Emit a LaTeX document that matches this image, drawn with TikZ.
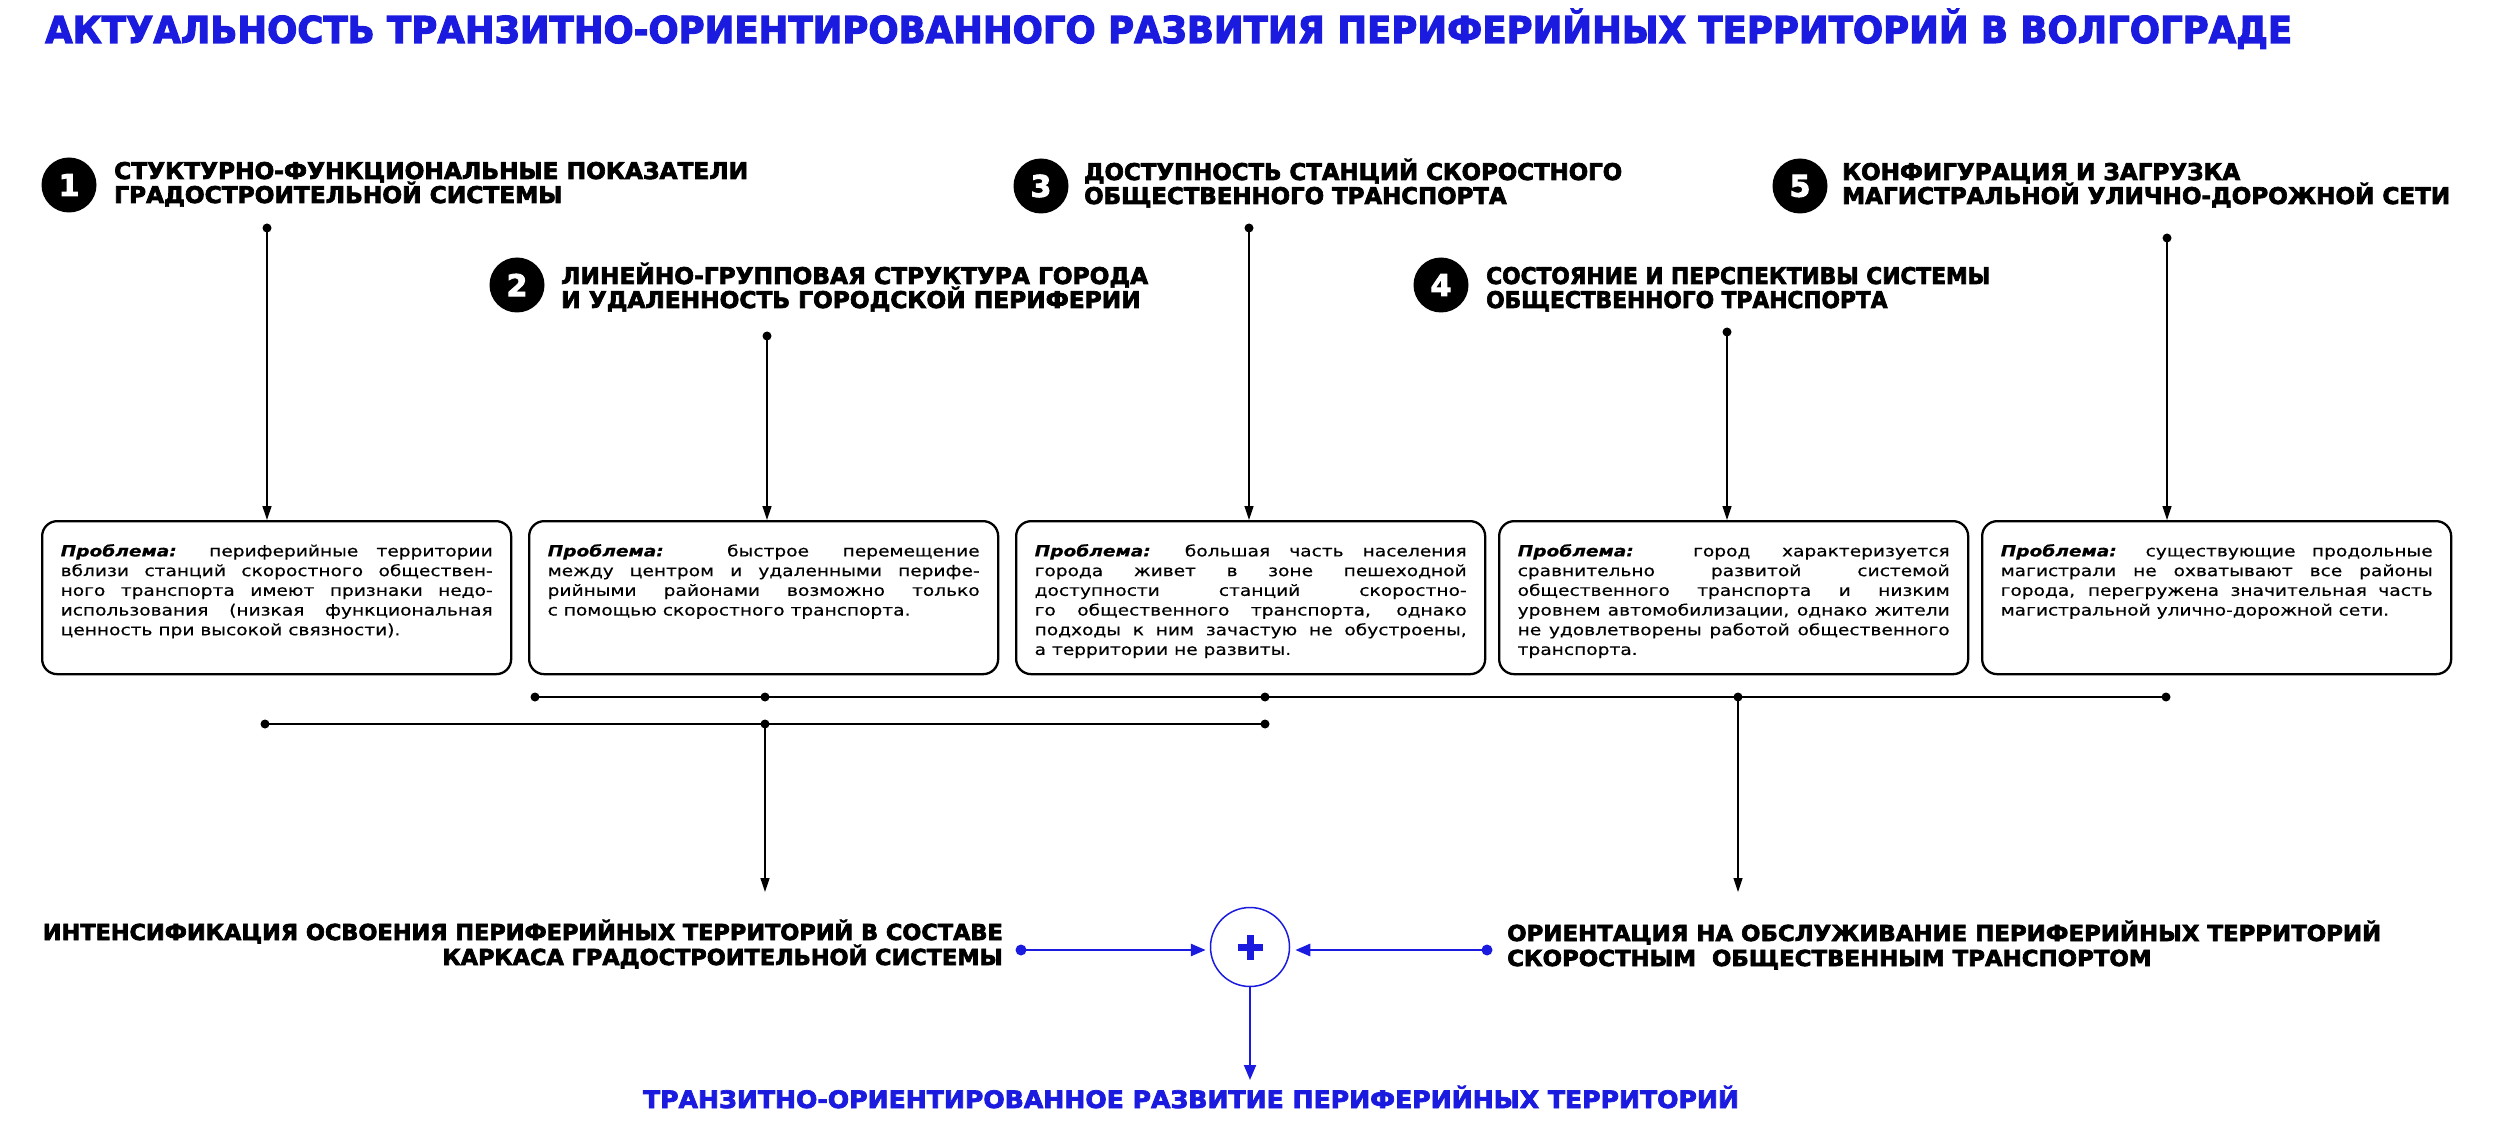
\documentclass[tikz,border=0pt]{standalone}
\usepackage{fontspec}
\usepackage{graphicx}
\setmainfont{DejaVu Sans}
\newfontfamily\hvy[FakeBold=3]{DejaVu Sans Bold}
\newfontfamily\bxf[FakeStretch=1.2,FakeBold=0.4]{DejaVu Sans}
\usetikzlibrary{arrows.meta}
\definecolor{tblue}{RGB}{27,27,224}
\newsavebox\fitbox
\newlength\fitlen
\newcommand\fitw[2]{\sbox\fitbox{#2}\setlength\fitlen{\wd\fitbox}\pgfmathsetmacro\fitsx{#1/\fitlen}\global\let\gfitsx\fitsx\scalebox{\fitsx}[1]{\usebox\fitbox}}
\newcommand\usesx[1]{\scalebox{\gfitsx}[1]{#1}}
\newcommand\jl[1]{\sbox\fitbox{#1}\noindent\ifdim\wd\fitbox>\linewidth\fitw{\linewidth}{#1}\else\makebox[\linewidth][s]{#1}\fi\par}
\newcommand\jlast[1]{\sbox\fitbox{#1}\noindent\ifdim\wd\fitbox>\linewidth\fitw{\linewidth}{#1}\else\makebox[\linewidth][l]{#1}\fi\par}
\newcommand\prb{\textbf{\textit{Проблема:}}}
\newcommand\boxtext[1]{\parbox[t][107pt][t]{432pt}{\bxf\fontsize{15.5}{19.7}\selectfont #1}}
\tikzset{
  hline/.style={anchor=base west, inner sep=0pt, font=\hvy\fontsize{23}{23}\selectfont},
  hliner/.style={hline, anchor=base east},
  numc/.style={circle, fill=black, minimum size=55pt, inner sep=0pt, text=white, font=\hvy\fontsize{30}{30}\selectfont},
  pbox/.style={draw, line width=2.3pt, rounded corners=15pt, anchor=north west, inner xsep=18.5pt, inner ysep=23pt, minimum width=469pt},
  conn/.style={line width=1.3pt, -{Triangle[length=14pt,width=9pt]}},
  bus/.style={line width=2.5pt},
  bconn/.style={tblue, line width=2.8pt, -{Triangle[length=15pt,width=12pt]}},
}
\begin{document}
\begin{tikzpicture}[x=1pt,y=-1pt]
\useasboundingbox (0,0) rectangle (2500,1139);
% title
\node[anchor=base west, inner sep=0pt, text=tblue, font=\hvy\fontsize{37}{37}\selectfont] (title) at (45,43)
  {\fitw{2247}{АКТУАЛЬНОСТЬ ТРАНЗИТНО-ОРИЕНТИРОВАННОГО РАЗВИТИЯ ПЕРИФЕРИЙНЫХ ТЕРРИТОРИЙ В ВОЛГОГРАДЕ}};
% headers
\node[numc] (n1) at (69,185) {1};
\node[hline] (h1a) at (114,179) {\fitw{634}{СТУКТУРНО-ФУНКЦИОНАЛЬНЫЕ ПОКАЗАТЕЛИ}};
\node[hline] (h1b) at (114,203) {\usesx{ГРАДОСТРОИТЕЛЬНОЙ СИСТЕМЫ}};
\node[numc] (n2) at (517,285) {2};
\node[hline] (h2a) at (561,284) {\fitw{587}{ЛИНЕЙНО-ГРУППОВАЯ СТРУКТУРА ГОРОДА}};
\node[hline] (h2b) at (561,308) {\usesx{И УДАЛЕННОСТЬ ГОРОДСКОЙ ПЕРИФЕРИИ}};
\node[numc] (n3) at (1041,186) {3};
\node[hline] (h3a) at (1084,180) {\fitw{538}{ДОСТУПНОСТЬ СТАНЦИЙ СКОРОСТНОГО}};
\node[hline] (h3b) at (1084,204) {\usesx{ОБЩЕСТВЕННОГО ТРАНСПОРТА}};
\node[numc] (n4) at (1441,285) {4};
\node[hline] (h4a) at (1486,284) {\fitw{504}{СОСТОЯНИЕ И ПЕРСПЕКТИВЫ СИСТЕМЫ}};
\node[hline] (h4b) at (1486,308) {\usesx{ОБЩЕСТВЕННОГО ТРАНСПОРТА}};
\node[numc] (n5) at (1800,186) {5};
\node[hline] (h5b) at (1842,204) {\fitw{608}{МАГИСТРАЛЬНОЙ УЛИЧНО-ДОРОЖНОЙ СЕТИ}};
\node[hline] (h5a) at (1842,180) {\usesx{КОНФИГУРАЦИЯ И ЗАГРУЗКА}};
% problem boxes
\node[pbox] (b1) at (41,520) {\boxtext{%
\jl{\prb{} периферийные территории}
\jl{вблизи станций скоростного обществен-}
\jl{ного транспорта имеют признаки недо-}
\jl{использования (низкая функциональная}
\jlast{ценность при высокой связности).}}};
\node[pbox] (b2) at (528,520) {\boxtext{%
\jl{\prb{} быстрое перемещение}
\jl{между центром и удаленными перифе-}
\jl{рийными районами возможно только}
\jlast{с помощью скоростного транспорта.}}};
\node[pbox] (b3) at (1015,520) {\boxtext{%
\jl{\prb{} большая часть населения}
\jl{города живет в зоне пешеходной}
\jl{доступности станций скоростно-}
\jl{го общественного транспорта, однако}
\jl{подходы к ним зачастую не обустроены,}
\jlast{а территории не развиты.}}};
\node[pbox] (b4) at (1498,520) {\boxtext{%
\jl{\prb{} город характеризуется}
\jl{сравнительно развитой системой}
\jl{общественного транспорта и низким}
\jl{уровнем автомобилизации, однако жители}
\jl{не удовлетворены работой общественного}
\jlast{транспорта.}}};
\node[pbox] (b5) at (1981,520) {\boxtext{%
\jl{\prb{} существующие продольные}
\jl{магистрали не охватывают все районы}
\jl{города, перегружена значительная часть}
\jlast{магистральной улично-дорожной сети.}}};
% vertical connectors from headers
\coordinate (d1) at (267,228);
\coordinate (d2) at (767,336);
\coordinate (d3) at (1249,228);
\coordinate (d4) at (1727,332);
\coordinate (d5) at (2167,238);
\foreach \i in {1,...,5}{
  \fill (d\i) circle[radius=4.5pt];
  \draw[conn] (d\i) -- (d\i |- b\i.north);
}
% buses
\coordinate (u1) at (535,697);
\coordinate (u2) at (765,697);
\coordinate (u3) at (1265,697);
\coordinate (u4) at (1738,697);
\coordinate (u5) at (2166,697);
\coordinate (l1) at (265,724);
\coordinate (l2) at (765,724);
\coordinate (l3) at (1265,724);
\draw[bus] (u1) -- (u5);
\draw[bus] (l1) -- (l3);
\foreach \c in {u1,u2,u3,u4,u5,l1,l2,l3}{\fill (\c) circle[radius=4.5pt];}
% conclusions
\node[hliner, font=\hvy\fontsize{22}{22}\selectfont] (La) at (1003,940) {\fitw{960}{ИНТЕНСИФИКАЦИЯ ОСВОЕНИЯ ПЕРИФЕРИЙНЫХ ТЕРРИТОРИЙ В СОСТАВЕ}};
\node[hliner, font=\hvy\fontsize{22}{22}\selectfont] (Lb) at (1003,965) {\usesx{КАРКАСА ГРАДОСТРОИТЕЛЬНОЙ СИСТЕМЫ}};
\node[hline, font=\hvy\fontsize{22}{22}\selectfont] (Ra) at (1507,941) {\fitw{874}{ОРИЕНТАЦИЯ НА ОБСЛУЖИВАНИЕ ПЕРИФЕРИЙНЫХ ТЕРРИТОРИЙ}};
\node[hline, font=\hvy\fontsize{22}{22}\selectfont] (Rb) at (1507,966) {\usesx{СКОРОСТНЫМ\ \ ОБЩЕСТВЕННЫМ ТРАНСПОРТОМ}};
\coordinate (t1) at (765,892);
\coordinate (t2) at (1738,892);
\draw[conn] (l2) -- (t1);
\draw[conn] (u4) -- (t2);
% plus circle
\node[circle, draw=tblue, line width=1.5pt, minimum size=79pt, inner sep=0pt] (P) at (1250,947) {};
\draw[tblue, line width=7pt] ([xshift=-12.5pt]P.center) -- ([xshift=12.5pt]P.center);
\draw[tblue, line width=7pt] ([yshift=-12.5pt]P.center) -- ([yshift=12.5pt]P.center);
\coordinate (Ld) at (1021,950);
\coordinate (Rd) at (1487,950);
\fill[tblue] (Ld) circle[radius=5.5pt];
\fill[tblue] (Rd) circle[radius=5.5pt];
\draw[bconn, shorten >=4pt] (Ld) -- (Ld -| P.west);
\draw[bconn, shorten >=5pt] (Rd) -- (Rd -| P.east);
\node[anchor=base, inner sep=0pt, text=tblue, font=\hvy\fontsize{24}{24}\selectfont] (res) at (1191,1108)
  {\fitw{1096}{ТРАНЗИТНО-ОРИЕНТИРОВАННОЕ РАЗВИТИЕ ПЕРИФЕРИЙНЫХ ТЕРРИТОРИЙ}};
\coordinate (rt) at (1251,1080);
\draw[tblue, line width=2pt, -{Triangle[length=15pt,width=12pt]}] (P.south) -- (P.south |- rt);
\end{tikzpicture}
\end{document}
